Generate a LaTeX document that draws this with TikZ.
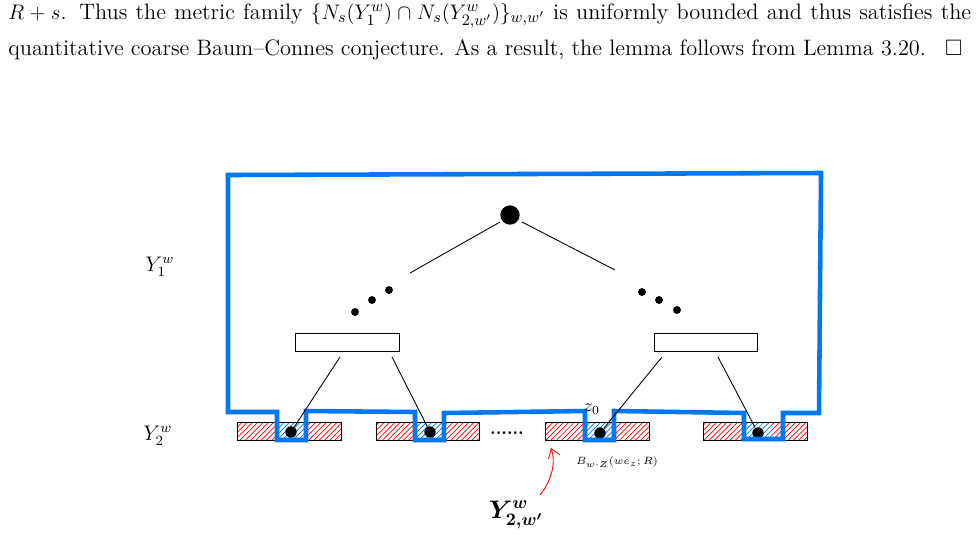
\documentclass[tikz,border=0pt]{standalone}
\usepackage{amsmath,amssymb}
\usetikzlibrary{patterns,arrows.meta}
\begin{document}
\begin{tikzpicture}[x=0.02cm,y=-0.02cm,
  blueline/.style={draw={rgb,255:red,0;green,120;blue,240},line width=2.6pt,line join=miter},
  cell/.style={draw=black,line width=0.5pt},
  thin/.style={line width=0.5pt},
  dot/.style={circle,fill=black,inner sep=0pt,minimum size=4.5pt}]
\definecolor{myblue}{RGB}{0,120,240}
\useasboundingbox (0,0) rectangle (976,559);
\node[anchor=west,inner sep=0pt] (t1) at (8,16) {\fontsize{12.7}{16}\selectfont\makebox[548pt][s]{$R+s$. Thus the metric family $\{N_s(Y_1^w)\cap N_s(Y_{2,w'}^w)\}_{w,w'}$ is uniformly bounded and thus satisfies the}};
\node[anchor=west,inner sep=0pt] (t2) at (8,50) {\fontsize{12.7}{16}\selectfont\makebox[543pt][l]{quantitative coarse Baum--Connes conjecture. As a result, the lemma follows from Lemma 3.20.\hfill$\square$}};
% cells
\foreach \a/\b/\c/\d/\n in {237/277/306/341/1,376/415/443/479/2,545/585/614/649/3,703/743/772/807/4}{
  \fill[pattern=north east lines,pattern color=red] (\a,422) rectangle (\b,440);
  \fill[pattern=north east lines,pattern color=red] (\c,422) rectangle (\d,440);
  \fill[pattern=north east lines,pattern color=myblue] (\b,422) rectangle (\c,440);
  \draw[cell] (\a,422) rectangle (\d,440);
}
\node[dot,minimum size=6.5pt] (c1) at (291,432) {};
\node[dot,minimum size=6.5pt] (c2) at (430,432) {};
\node[dot,minimum size=6.5pt] (c3) at (600,433) {};
\node[dot,minimum size=6.5pt] (c4) at (758,433) {};
% blue outline
\draw[blueline] (228,175) -- (821,173) -- (819,413) -- (783,413) -- (783,439) -- (744,439) -- (744,413)
 -- (614,411) -- (614,440) -- (585,440) -- (585,411) -- (444,413) -- (444,440) -- (415,440) -- (415,412)
 -- (306,411) -- (306,440) -- (277,440) -- (277,412) -- (228,412) -- cycle;
% tree
\node[dot,minimum size=11pt] (top) at (510,215) {};
\node[dot] (l1) at (355,312) {};
\node[dot] (l2) at (372,300) {};
\node[dot] (l3) at (389,290) {};
\node[dot] (r1) at (642,292) {};
\node[dot] (r2) at (659,300) {};
\node[dot] (r3) at (677,310) {};
\coordinate (ta) at (410,273); \coordinate (tb) at (615,270);
\draw[thin] (500,222) -- (ta);
\draw[thin] (522,222) -- (tb);
\node[draw,thin,inner sep=0pt,minimum width=2.08cm,minimum height=0.36cm] (rl) at (347,342) {};
\node[draw,thin,inner sep=0pt,minimum width=2.06cm,minimum height=0.36cm] (rr) at (705.5,342) {};
\draw[thin] (340,357) -- (c1);
\draw[thin] (392,357) -- (c2);
\draw[thin] (662,357) -- (c3);
\draw[thin] (718,357) -- (c4);
% labels
\node (y1) at (160,267) {\large $Y_1^w$};
\node (y2) at (158,436) {\large $Y_2^w$};
\node (z0) at (592,409) {$z_0$};
\node (dd) at (507,433) {\textbf{......}};
\node[anchor=west] (B) at (570,462) {\fontsize{6}{7}\selectfont $B_{w\cdot Z}(w e_z;R)$};
\node (Y2w) at (516,515) {\Large $\boldsymbol{Y_{2,w'}^w}$};
\draw[red,thin,-{Straight Barb[length=5pt,width=7pt]}] (540,495) .. controls (552,480) and (556,462) .. (551,448);
\end{tikzpicture}
\end{document}
